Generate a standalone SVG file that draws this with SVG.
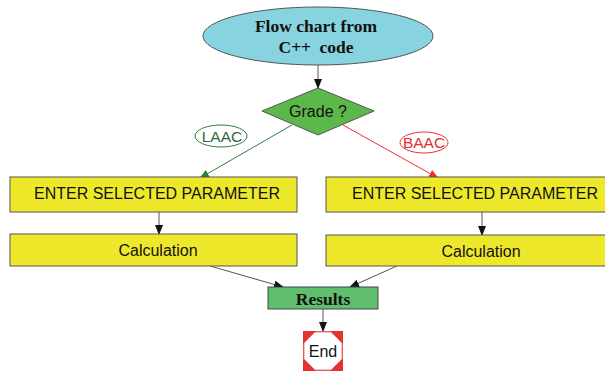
<svg xmlns="http://www.w3.org/2000/svg" width="605" height="374" viewBox="0 0 605 374">
<defs>
<style>
.box{fill:#eee82a;stroke:#555;stroke-width:1}
.st{font-family:"Liberation Sans",Arial,sans-serif;font-size:16px;fill:#111;text-anchor:middle}
.sb{font-family:"Liberation Serif","Times New Roman",serif;font-weight:bold;font-size:17.5px;fill:#111;text-anchor:middle}
.ln{stroke:#555;stroke-width:1;fill:none}
</style>
<marker id="ak" markerWidth="10" markerHeight="10" refX="9" refY="5" orient="auto" markerUnits="userSpaceOnUse"><path d="M0,1 L10,5 L0,9 z" fill="#111"/></marker>
<marker id="ag" markerWidth="10" markerHeight="10" refX="9" refY="5" orient="auto" markerUnits="userSpaceOnUse"><path d="M0,1 L10,5 L0,9 z" fill="#2e7d3e"/></marker>
<marker id="ar" markerWidth="10" markerHeight="10" refX="9" refY="5" orient="auto" markerUnits="userSpaceOnUse"><path d="M0,1 L10,5 L0,9 z" fill="#f03030"/></marker>
</defs>
<rect width="605" height="374" fill="#fff"/>
<g id="connectors">
<line class="ln" x1="318" y1="65" x2="318" y2="88" marker-end="url(#ak)"/>
<line x1="292" y1="125" x2="200" y2="178" stroke="#2e7d3e" stroke-width="1" marker-end="url(#ag)"/>
<line x1="343" y1="125" x2="438" y2="178" stroke="#f03030" stroke-width="1" marker-end="url(#ar)"/>
<line class="ln" x1="159" y1="212" x2="159" y2="234" marker-end="url(#ak)"/>
<line class="ln" x1="482" y1="212" x2="482" y2="235" marker-end="url(#ak)"/>
<line class="ln" x1="210" y1="266" x2="283" y2="287" marker-end="url(#ak)"/>
<line class="ln" x1="397" y1="266" x2="350" y2="287" marker-end="url(#ak)"/>
<line class="ln" x1="323" y1="309" x2="323" y2="331" marker-end="url(#ak)"/>
</g>
<g id="start">
<ellipse cx="318" cy="36" rx="115" ry="29" fill="#87d3e0" stroke="#555"/>
<text class="sb" x="316" y="32">Flow chart from</text>
<text class="sb" x="316" y="53">C++ <tspan dx="4">code</tspan></text>
</g>
<g id="grade">
<polygon points="318,88 374,111 318,135 262,111" fill="#5cb84a" stroke="#555"/>
<text class="st" x="318" y="117" font-size="15">Grade ?</text>
</g>
<g id="laac">
<ellipse cx="221" cy="136" rx="26" ry="11" fill="#fff" stroke="#2e7d3e"/>
<text class="st" x="222" y="141.5" style="fill:#2e6b3a;font-size:15.5px">LAAC</text>
</g>
<g id="baac">
<ellipse cx="424" cy="142.5" rx="24" ry="10.5" fill="#fff" stroke="#f03030"/>
<text class="st" x="424" y="148" style="fill:#e03030;font-size:15.5px">BAAC</text>
</g>
<g id="enter-left">
<rect class="box" x="10" y="177" width="287" height="35"/>
<text class="st" x="157" y="199">ENTER SELECTED PARAMETER</text>
</g>
<g id="calc-left">
<rect class="box" x="10" y="234" width="287" height="32"/>
<text class="st" x="158" y="256">Calculation</text>
</g>
<g id="enter-right">
<rect class="box" x="326" y="177" width="298" height="35"/>
<text class="st" x="475" y="199">ENTER SELECTED PARAMETER</text>
</g>
<g id="calc-right">
<rect class="box" x="326" y="235" width="298" height="31"/>
<text class="st" x="481" y="257">Calculation</text>
</g>
<g id="results">
<rect x="268" y="287" width="110" height="22" fill="#5fbf6f" stroke="#444"/>
<text class="sb" x="323" y="305">Results</text>
</g>
<g id="end">
<rect x="303" y="331" width="40" height="40" fill="#e83030"/>
<polygon points="315,332 331,332 342,343 342,359 331,370 315,370 304,359 304,343" fill="#fff" stroke="#d88"/>
<text class="st" x="323" y="357">End</text>
</g>
</svg>
